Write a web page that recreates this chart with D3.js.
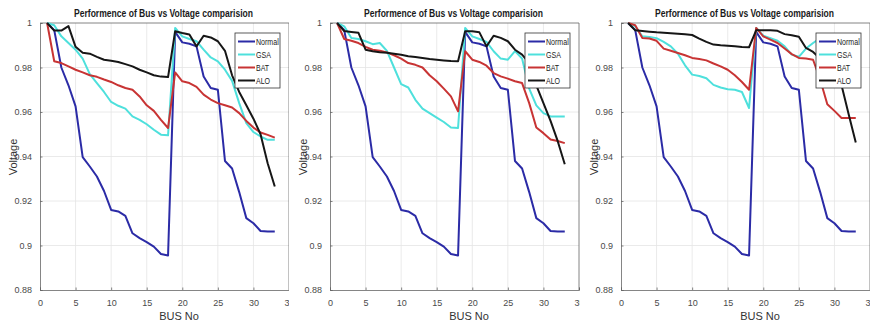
<!DOCTYPE html>
<html><head><meta charset="utf-8">
<script src="https://cdn.jsdelivr.net/npm/d3@7"></script>
<style>body{margin:0;background:#fff;} svg{display:block;font-family:"Liberation Sans",Arial,sans-serif;}</style>
</head><body><svg id="c" width="870" height="325"></svg>
<script>
const buses = d3.range(1, 34);
const seriesNames = ["Normal", "GSA", "BAT", "ALO"];
const seriesColors = ["#2b2ba6", "#4ee0dc", "#c83434", "#161616"];
const titleText = "Performence of Bus vs Voltage comparision";
const xLabel = "BUS No";
const yLabel = "Voltage";
const xTicks = [0, 5, 10, 15, 20, 25, 30, 35];
const yTicks = [0.88, 0.9, 0.92, 0.94, 0.96, 0.98, 1];
const yTickLabels = ["0.88", "0.9", "0.92", "0.94", "0.96", "0.98", "1"];

const normal = [1.0, 0.9968, 0.980, 0.972, 0.9625, 0.9397, 0.9355, 0.931, 0.9245, 0.916, 0.9153, 0.9133, 0.9055, 0.9033, 0.9015, 0.8995, 0.8962, 0.8955,
  0.996, 0.9913, 0.9907, 0.9895, 0.976, 0.9708, 0.970, 0.938, 0.9346, 0.924, 0.9123, 0.910, 0.9065, 0.9063, 0.9063];

const gsa1 = [1.0, 0.999, 0.994, 0.991, 0.988, 0.984, 0.977, 0.973, 0.969, 0.9645, 0.9628, 0.9615, 0.958, 0.9565, 0.9545, 0.952, 0.9498, 0.9495,
  0.9978, 0.994, 0.9928, 0.9918, 0.988, 0.9845, 0.9828, 0.979, 0.974, 0.964, 0.955, 0.951, 0.949, 0.9475, 0.9475];
const bat1 = [1.0, 0.9828, 0.982, 0.9805, 0.979, 0.9778, 0.9765, 0.9758, 0.9746, 0.9735, 0.972, 0.9708, 0.970, 0.967, 0.963, 0.9605, 0.9565, 0.9528,
  0.9778, 0.9738, 0.973, 0.9713, 0.9678, 0.9656, 0.964, 0.963, 0.962, 0.9595, 0.956, 0.953, 0.9508, 0.9497, 0.9485];
const alo1 = [1.0, 0.9966, 0.9966, 0.9986, 0.9893, 0.9866, 0.9862, 0.9848, 0.9835, 0.983, 0.9825, 0.9815, 0.9805, 0.979, 0.9778, 0.9765, 0.9759, 0.9757,
  0.9963, 0.9955, 0.9948, 0.9895, 0.9943, 0.9935, 0.9918, 0.9875, 0.9765, 0.969, 0.963, 0.957, 0.950, 0.937, 0.9265];

const gsa2 = [1.0, 0.9985, 0.9933, 0.9928, 0.9918, 0.9905, 0.991, 0.9875, 0.980, 0.9725, 0.971, 0.9655, 0.9615, 0.9595, 0.9575, 0.9555, 0.953, 0.9528,
  0.9978, 0.994, 0.9928, 0.9915, 0.9873, 0.984, 0.9835, 0.9874, 0.984, 0.9705, 0.963, 0.9595, 0.958, 0.958, 0.958];
const bat2 = [1.0, 0.9928, 0.992, 0.991, 0.9893, 0.988, 0.9875, 0.9868, 0.9855, 0.984, 0.982, 0.9812, 0.980, 0.9765, 0.9738, 0.9705, 0.967, 0.9603,
  0.9873, 0.9835, 0.9825, 0.9808, 0.9775, 0.976, 0.975, 0.9738, 0.973, 0.964, 0.953, 0.9505, 0.9476, 0.947, 0.946];
const alo2 = [1.0, 0.9964, 0.996, 0.9956, 0.988, 0.9873, 0.9869, 0.9866, 0.9862, 0.9857, 0.9851, 0.9847, 0.9843, 0.9838, 0.9835, 0.9832, 0.9829, 0.9828,
  0.9963, 0.9963, 0.9958, 0.9895, 0.9943, 0.9933, 0.9918, 0.988, 0.9858, 0.982, 0.972, 0.964, 0.956, 0.947, 0.9365];

const gsa3 = [1.0, 0.9985, 0.994, 0.9937, 0.9932, 0.9915, 0.9895, 0.9862, 0.981, 0.9768, 0.9762, 0.9752, 0.9722, 0.971, 0.9702, 0.970, 0.969, 0.9618,
  0.9978, 0.9943, 0.9932, 0.992, 0.9895, 0.9858, 0.9848, 0.9885, 0.991, 0.9932, 0.9935, 0.9935, 0.9935, 0.9935, 0.9935];
const bat3 = [1.0, 0.999, 0.9933, 0.993, 0.992, 0.9885, 0.9875, 0.9865, 0.9855, 0.9843, 0.9838, 0.9832, 0.9818, 0.9805, 0.979, 0.9765, 0.9735, 0.970,
  0.9978, 0.994, 0.9925, 0.991, 0.9885, 0.986, 0.9843, 0.984, 0.9835, 0.9745, 0.9635, 0.9605, 0.9573, 0.9573, 0.9573];
const alo3 = [1.0, 0.9967, 0.9964, 0.9961, 0.9958, 0.9956, 0.9954, 0.9952, 0.9949, 0.9946, 0.993, 0.9915, 0.9903, 0.990, 0.9898, 0.9895, 0.9892, 0.9891,
  0.9967, 0.9967, 0.9967, 0.9965, 0.995, 0.9945, 0.9938, 0.9888, 0.987, 0.984, 0.980, 0.9765, 0.972, 0.959, 0.9463];

const panelData = [
  [normal, gsa1, bat1, alo1],
  [normal, gsa2, bat2, alo2],
  [normal, gsa3, bat3, alo3]
];

const panelLeft = [40, 330, 621];
const clipLeft = [0, 290, 580];
const clipRight = [289, 580, 870];
const panelW = 249, plotTop = 23, plotBottom = 290;

const svg = d3.select("#c");
const defs = svg.append("defs");

panelData.forEach((series, p) => {
  const L = panelLeft[p];
  defs.append("clipPath").attr("id", "clip" + p)
    .append("rect").attr("x", clipLeft[p]).attr("y", 0)
    .attr("width", clipRight[p] - clipLeft[p]).attr("height", 325);

  const g = svg.append("g").attr("clip-path", `url(#clip${p})`);
  const x = d3.scaleLinear().domain([0, 35]).range([L, L + panelW]);
  const y = d3.scaleLinear().domain([0.88, 1]).range([plotBottom, plotTop]);

  // grid
  g.append("g").selectAll("line").data(xTicks.slice(1, -1)).join("line")
    .attr("x1", d => x(d)).attr("x2", d => x(d))
    .attr("y1", plotTop).attr("y2", plotBottom)
    .attr("stroke", "#e4e4e4").attr("stroke-width", 0.8);
  g.append("g").selectAll("line").data(yTicks.slice(1, -1)).join("line")
    .attr("x1", L).attr("x2", L + panelW)
    .attr("y1", d => y(d)).attr("y2", d => y(d))
    .attr("stroke", "#e4e4e4").attr("stroke-width", 0.8);

  // axes (MATLAB style, ticks inward)
  const xAxis = g.append("g").attr("transform", `translate(0,${plotBottom})`)
    .call(d3.axisBottom(x).tickValues(xTicks).tickSize(-2.5).tickPadding(7).tickFormat(d3.format("d")));
  const yAxis = g.append("g").attr("transform", `translate(${L},0)`)
    .call(d3.axisLeft(y).tickValues(yTicks).tickSize(-2.5).tickPadding(8).tickFormat((d, i) => yTickLabels[i]));
  [xAxis, yAxis].forEach(a => {
    a.select(".domain").attr("stroke", "#666").attr("stroke-width", 0.8);
    a.selectAll(".tick line").attr("stroke", "#666").attr("stroke-width", 0.8);
    a.selectAll(".tick text").attr("fill", "#4a4a4a").attr("font-size", 9).attr("font-family", "Liberation Sans, Arial, sans-serif");
  });
  xAxis.selectAll(".tick text").attr("dy", "0.95em");
  // top & right box
  g.append("line").attr("x1", L).attr("x2", L + panelW).attr("y1", plotTop).attr("y2", plotTop)
    .attr("stroke", "#666").attr("stroke-width", 0.8);
  g.append("line").attr("x1", L + panelW).attr("x2", L + panelW).attr("y1", plotTop).attr("y2", plotBottom)
    .attr("stroke", "#666").attr("stroke-width", 0.8);

  // lines
  const line = d3.line().x((d, i) => x(buses[i])).y(d => y(d));
  series.forEach((s, k) => {
    g.append("path").datum(s).attr("d", line).attr("fill", "none")
      .attr("stroke", seriesColors[k]).attr("stroke-width", 2).attr("stroke-linejoin", "round");
  });

  // legend
  const lgX = L + 195, lgY = 33;
  const lg = g.append("g");
  lg.append("rect").attr("x", lgX).attr("y", lgY).attr("width", 45).attr("height", 55)
    .attr("fill", "#fff").attr("stroke", "#333").attr("stroke-width", 0.8);
  const texts = [];
  seriesNames.forEach((n, k) => {
    const yy = lgY + 8.5 + k * 13;
    lg.append("line").attr("x1", lgX + 3).attr("x2", lgX + 20).attr("y1", yy).attr("y2", yy)
      .attr("stroke", seriesColors[k]).attr("stroke-width", 2);
    texts.push(lg.append("text").attr("x", lgX + 21).attr("y", yy).attr("dy", "0.35em")
      .attr("font-size", 9.5).attr("fill", "#222").text(n));
  });
  const f = 22.7 / texts[0].node().getComputedTextLength();
  texts.forEach(t => t.attr("textLength", t.node().getComputedTextLength() * f).attr("lengthAdjust", "spacingAndGlyphs"));

  // title
  g.append("text").attr("x", L + 123.5).attr("y", 17).attr("text-anchor", "middle")
    .attr("font-size", 10).attr("font-weight", "bold").attr("fill", "#1a1a1a")
    .text(titleText).attr("textLength", 179).attr("lengthAdjust", "spacingAndGlyphs");

  // axis labels
  g.append("text").attr("x", L + 139).attr("y", 320).attr("text-anchor", "middle")
    .attr("font-size", 11).attr("fill", "#333").text(xLabel);
  g.append("text").attr("transform", `translate(${L - 23},157) rotate(-90)`)
    .attr("text-anchor", "middle").attr("font-size", 11).attr("fill", "#333").text(yLabel);
});
</script>
</body></html>
